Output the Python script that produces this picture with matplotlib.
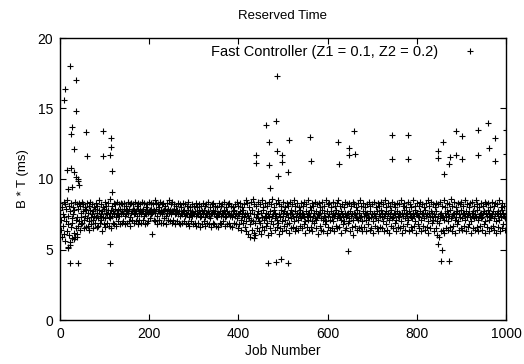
import matplotlib
matplotlib.use("Agg")
import matplotlib.pyplot as plt
import numpy as np

plt.rcParams['font.family'] = ['Liberation Sans', 'DejaVu Sans']

# Main band of reserved-time values, one per job (jobs 0..999)
band_vals = [
7.8,8.3,6.4,7.1,5.9,8.0,7.5,6.7,8.4,6.1,7.3,8.2,5.6,7.0,7.9,6.3,8.5,5.2,7.4,6.8,
8.1,6.0,5.5,7.7,6.6,8.3,7.2,5.8,6.9,8.0,7.5,6.2,7.8,5.9,8.4,7.1,6.5,8.2,7.3,6.1,
7.9,6.7,8.3,7.0,6.4,8.1,7.6,6.8,7.3,8.4,6.9,7.7,8.2,7.1,6.5,7.9,8.0,7.4,6.6,7.8,
8.3,7.2,6.7,7.6,8.1,7.0,6.4,7.8,8.4,7.3,6.8,7.5,8.2,7.1,6.5,7.7,8.0,7.4,6.9,7.9,
8.3,7.3,6.6,7.6,8.1,7.2,6.7,7.8,8.5,7.4,6.9,7.5,8.2,7.1,6.3,7.7,8.0,7.3,6.8,7.9,
8.4,7.2,6.6,7.6,8.1,7.5,6.9,7.8,8.3,7.3,6.7,7.6,8.6,7.2,6.5,7.8,8.1,7.4,6.9,7.7,
8.3,7.5,6.8,7.9,8.2,7.3,6.7,7.6,8.4,7.6,7.0,7.8,8.2,7.4,6.8,7.9,8.3,7.5,6.9,7.7,
8.2,7.6,7.0,7.9,8.3,7.4,6.8,7.7,8.1,7.5,6.9,7.8,8.4,7.6,7.0,7.9,8.2,7.3,6.7,7.6,
8.3,7.7,7.1,7.9,8.2,7.5,6.9,7.8,8.4,7.6,7.0,7.7,8.1,7.4,6.8,7.9,8.3,7.6,7.1,7.8,
8.2,7.5,6.9,7.7,8.4,7.7,7.1,7.9,8.3,7.4,6.8,7.6,8.0,7.5,6.9,7.8,8.2,7.6,7.0,7.7,
8.4,7.8,7.2,7.9,8.3,7.5,6.1,7.6,8.2,7.7,7.1,7.8,8.5,7.6,7.0,7.9,8.3,7.4,6.8,7.7,
8.2,7.7,7.1,8.0,8.4,7.6,6.9,7.8,8.2,7.5,6.9,7.7,8.3,7.8,7.2,7.9,8.1,7.4,6.8,7.6,
8.3,7.7,7.1,7.9,8.5,7.6,7.0,7.8,8.2,7.5,6.9,7.7,8.4,7.7,7.1,7.9,8.2,7.5,6.8,7.6,
8.1,7.6,7.0,7.8,8.3,7.5,6.9,7.7,8.2,7.4,6.8,7.6,8.0,7.5,6.9,7.7,8.3,7.6,7.0,7.8,
8.2,7.4,6.8,7.6,8.1,7.5,6.9,7.8,8.4,7.3,6.7,7.5,8.0,7.6,7.0,7.7,8.2,7.4,6.8,7.6,
8.1,7.5,6.9,7.7,8.3,7.4,6.7,7.6,8.0,7.5,6.9,7.8,8.2,7.3,6.6,7.5,8.1,7.4,6.8,7.7,
8.3,7.6,7.0,7.8,8.1,7.3,6.7,7.5,8.2,7.5,6.9,7.7,8.4,7.4,6.8,7.6,8.0,7.2,6.6,7.5,
8.2,7.6,6.9,7.8,8.3,7.5,6.8,7.7,8.1,7.4,6.7,7.5,8.0,7.3,6.6,7.6,8.3,7.5,6.9,7.7,
8.1,7.4,6.8,7.6,8.2,7.6,7.0,7.8,8.4,7.3,6.7,7.5,8.0,7.4,6.8,7.7,8.2,7.5,6.9,7.6,
8.3,7.4,6.7,7.5,8.1,7.3,6.6,7.7,8.0,7.5,6.9,7.8,8.2,7.4,6.8,7.6,8.4,7.2,6.5,7.5,
8.1,7.5,6.8,7.7,8.3,7.1,6.4,7.4,8.0,7.6,6.9,7.8,8.2,7.3,6.6,7.5,8.5,7.0,6.3,7.6,
8.3,7.4,6.1,7.2,8.0,6.8,5.9,7.6,8.4,7.1,6.4,7.8,8.6,7.0,6.2,7.5,8.2,6.9,6.0,7.3,
8.1,7.5,6.5,7.7,8.4,7.2,6.3,7.0,8.2,6.9,6.1,7.6,8.5,7.3,6.6,7.8,8.0,7.1,6.4,7.4,
8.3,7.6,6.7,7.2,8.1,6.9,6.0,7.5,8.4,7.3,6.5,7.7,8.2,7.0,6.2,7.4,8.6,7.5,6.8,7.8,
8.0,7.2,6.4,7.6,8.3,7.4,6.6,7.1,8.5,6.9,6.1,7.5,8.2,7.3,6.5,7.8,8.1,7.0,6.3,7.6,
8.4,7.4,6.7,7.7,8.0,7.1,6.4,7.5,8.3,7.6,6.8,7.3,8.1,6.9,6.2,7.6,8.4,7.2,6.5,7.8,
8.2,7.5,6.6,7.4,8.5,7.0,6.3,7.7,8.1,7.3,6.5,7.6,8.3,7.1,6.4,7.5,8.0,7.4,6.7,7.8,
8.3,7.2,6.5,7.6,8.1,7.5,6.8,7.3,8.4,7.0,6.2,7.7,8.2,7.4,6.6,7.5,8.5,7.1,6.4,7.6,
8.0,7.3,6.6,7.8,8.3,7.0,6.3,7.4,8.1,7.6,6.9,7.2,8.4,7.1,6.5,7.7,8.2,7.3,6.1,7.5,
8.3,7.5,6.7,7.6,8.0,7.2,6.4,7.8,8.4,7.1,6.3,7.4,8.1,7.6,6.8,7.3,8.5,7.0,6.2,7.7,
8.2,7.4,6.6,7.5,8.3,7.1,6.4,7.7,8.0,7.3,6.5,7.6,8.4,7.0,6.3,7.4,8.1,7.5,6.7,7.8,
8.3,7.2,6.5,7.6,8.5,7.4,6.6,7.3,8.1,7.1,6.2,7.7,8.2,7.5,6.8,7.4,8.0,7.0,6.4,7.6,
8.4,7.3,6.5,7.5,8.2,7.6,6.9,7.2,8.3,7.0,6.3,7.7,8.1,7.4,6.6,7.5,8.4,7.1,6.0,7.6,
8.2,7.5,6.7,7.3,8.0,7.2,6.4,7.8,8.3,7.1,6.5,7.6,8.5,7.3,6.6,7.4,8.1,7.0,6.3,7.7,
8.3,7.4,6.6,7.6,8.0,7.1,6.3,7.5,8.2,7.6,6.8,7.3,8.4,7.2,6.4,7.7,8.1,7.3,6.5,7.5,
8.2,7.0,6.2,7.6,8.4,7.5,6.7,7.4,8.0,7.2,6.5,7.7,8.3,7.1,6.3,7.5,8.1,7.4,6.6,7.8,
8.4,7.3,6.5,7.6,8.2,7.0,6.3,7.4,8.5,7.5,6.8,7.7,8.0,7.2,6.4,7.6,8.3,7.1,6.2,7.5,
8.1,7.4,6.7,7.8,8.4,7.2,6.5,7.3,8.2,7.6,6.9,7.5,8.0,7.1,6.3,7.7,8.3,7.4,6.6,7.6,
8.2,7.3,6.5,7.5,8.5,7.0,6.2,7.6,8.1,7.4,6.7,7.8,8.3,7.2,6.4,7.5,8.0,7.6,6.8,7.4,
8.4,7.1,6.3,7.7,8.2,7.5,6.6,7.3,8.0,7.2,6.4,7.6,8.5,7.4,6.7,7.8,8.1,7.0,6.2,7.5,
8.3,7.6,6.8,7.4,8.1,7.3,6.5,7.7,8.4,7.1,6.3,7.5,8.2,7.5,6.7,7.6,8.0,7.2,6.4,7.8,
8.3,7.4,6.6,7.5,8.5,7.0,6.2,7.6,8.1,7.3,6.5,7.7,8.4,7.6,6.9,7.4,8.2,7.1,6.3,7.5,
8.0,7.3,6.5,7.7,8.3,7.0,6.0,7.4,8.2,6.9,5.9,7.5,8.4,7.2,6.3,7.6,8.1,7.4,6.4,7.3,
8.5,7.1,6.2,7.6,8.0,7.3,6.5,7.7,8.3,7.0,6.4,7.5,8.2,7.4,6.6,7.8,8.6,7.2,6.3,7.4,
8.1,7.5,6.7,7.6,8.4,7.1,6.2,7.3,8.0,7.6,6.8,7.7,8.3,7.0,6.4,7.5,8.2,7.3,6.5,7.8,
8.4,7.2,6.4,7.6,8.1,7.5,6.7,7.4,8.5,7.1,6.3,7.7,8.2,7.3,6.6,7.5,8.0,7.6,6.8,7.3,
8.3,7.0,6.2,7.6,8.4,7.4,6.5,7.7,8.1,7.2,6.4,7.5,8.5,7.3,6.6,7.8,8.2,7.1,6.3,7.4,
8.0,7.5,6.7,7.6,8.3,7.2,6.4,7.3,8.1,7.6,6.8,7.7,8.4,7.0,6.2,7.5,8.2,7.4,6.6,7.8,
8.3,7.1,6.3,7.6,8.0,7.3,6.5,7.4,8.4,7.5,6.7,7.7,8.1,7.2,6.4,7.5,8.3,7.0,6.2,7.6,
8.2,7.4,6.6,7.7,8.5,7.1,6.3,7.5,8.0,7.3,6.5,7.8,8.3,7.6,6.8,7.4,8.1,7.2,6.4,7.5,
]
band_jobs = list(range(len(band_vals)))

# Isolated outlier points (job number, value)
out_jobs = [8, 11, 22, 35, 36, 26, 25, 59, 96, 114, 32, 61, 97, 115, 113, 117,
            16, 24, 32, 36, 40, 41, 17, 28, 42, 117, 19, 22, 31, 39, 111, 22, 40, 112,
            468, 513, 561, 659, 745, 781, 439, 440, 487, 498, 469, 497, 489, 512, 470,
            624, 649, 647, 661, 562, 626, 745, 781, 436, 646, 466, 484, 496, 512,
            462, 484, 487,
            960, 937, 889, 901, 975, 1000, 859, 847, 847, 874, 889, 901, 873, 938,
            962, 975, 1000, 860, 847, 856, 854, 872]
out_vals = [15.6, 16.4, 18.0, 17.0, 14.8, 13.7, 13.2, 13.3, 13.4, 12.9, 12.1, 11.6, 11.6, 12.25, 11.7, 10.6,
            10.66, 10.76, 10.5, 10.16, 9.98, 9.86, 9.3, 9.43, 9.57, 9.06, 5.08, 5.3, 5.74, 5.86, 5.37, 4.02, 4.02, 4.02,
            12.6, 12.8, 13.0, 13.4, 13.15, 13.15, 11.7, 11.15, 12.0, 11.7, 10.97, 11.18, 10.19, 10.47, 9.38,
            12.65, 12.2, 11.7, 11.75, 11.3, 11.04, 11.44, 11.44, 5.84, 4.9, 4.02, 4.09, 4.3, 4.02,
            13.8, 14.1, 17.3,
            14.0, 13.5, 13.4, 13.05, 12.9, 13.5, 12.65, 12.0, 11.47, 11.58, 11.7, 11.42, 11.06, 11.7,
            12.2, 11.28, 11.75, 10.33, 5.37, 5.0, 4.2, 4.2]

x_ticks = [0, 200, 400, 600, 800, 1000]
y_ticks = [0, 5, 10, 15, 20]
series_label = "Fast Controller (Z1 = 0.1, Z2 = 0.2)"

jobs = band_jobs + out_jobs
vals = band_vals + out_vals

fig = plt.figure(figsize=(5.24, 3.64), dpi=100)
ax = fig.add_axes([60/524, 44/364, 446/524, 282/364])
ax.plot(jobs, vals, linestyle='none', marker='+', color='black',
        markersize=4.5, markeredgewidth=0.8, label=series_label)
ax.set_xlim(0, 1000)
ax.set_ylim(0, 20)
ax.set_xticks(x_ticks)
ax.set_yticks(y_ticks)
ax.tick_params(direction='in', top=True, right=True, length=4, width=0.8,
               labelsize=10, pad=5)
for s in ax.spines.values():
    s.set_linewidth(1.0)
ax.set_xlabel("Job Number", fontsize=10, labelpad=2)
ax.set_ylabel("B * T (ms)", fontsize=9.5, labelpad=6)
ax.set_title("Reserved Time", fontsize=9.5, pad=14)
leg = ax.legend(loc='upper right', markerfirst=False, frameon=False, fontsize=10.5,
                handlelength=2.0, handletextpad=1.2, borderaxespad=0.1,
                bbox_to_anchor=(0.968, 1.0))
fig.savefig("out.png", dpi=100)
